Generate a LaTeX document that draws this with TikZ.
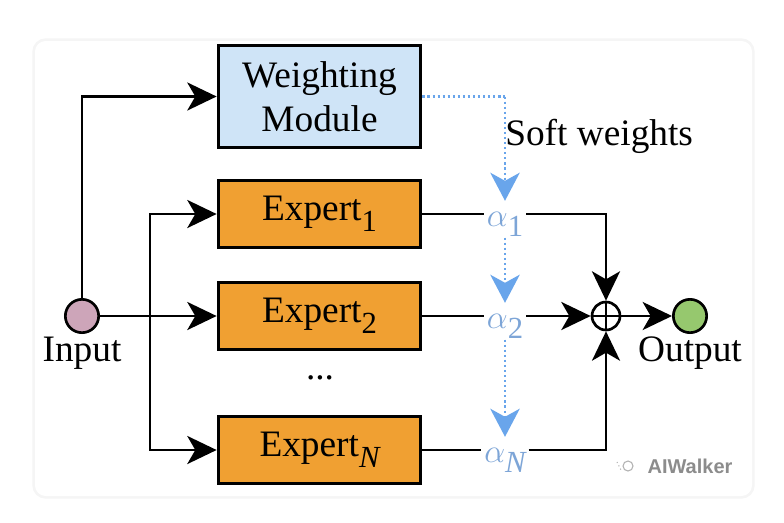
\documentclass[tikz,border=0pt]{standalone}
\usepackage{fontspec}
\setmainfont{Liberation Serif}
\newfontfamily\wmfont{Liberation Sans}
\usetikzlibrary{arrows.meta,calc}
\definecolor{wmblue}{RGB}{207,228,247}
\definecolor{exorange}{RGB}{240,160,50}
\definecolor{inpink}{RGB}{205,165,185}
\definecolor{outgreen}{RGB}{150,200,110}
\definecolor{alphablue}{RGB}{125,165,215}
\definecolor{dotblue}{RGB}{105,165,235}
\newcommand{\subtxt}[1]{\raisebox{-8pt}{\fontsize{23}{23}\selectfont #1}}
\begin{document}
\begin{tikzpicture}[x=0.75pt,y=-0.75pt,
  font=\fontsize{28}{33}\selectfont,
  box/.style={draw=black, line width=2.3pt, minimum width=152pt, inner sep=0pt, align=center},
  expbox/.style={box, fill=exorange, minimum height=50pt},
  dotnode/.style={circle, draw=black, line width=2pt, minimum size=25pt, inner sep=0pt},
  conn/.style={line width=2.2pt, draw=black},
  arr/.style={conn, -{Stealth[length=22pt,width=21pt,inset=6pt]}},
  wconn/.style={line width=2pt, draw=dotblue, dash pattern=on 1.6pt off 2.2pt},
  warr/.style={wconn, -{Stealth[length=21pt,width=22pt,inset=6pt]}},
  anode/.style={text=alphablue, inner sep=2pt, anchor=base, font=\fontsize{33}{33}\selectfont}]
\useasboundingbox (0,0) rectangle (784,522);
% card
\draw[draw=black!4, line width=4pt, rounded corners=8pt] (35,41) rectangle (752,496);
\fill[white, rounded corners=8pt] (35,41) rectangle (752,496);

% nodes
\node[box, fill=wmblue, minimum height=77pt] (wm) at (319.5,96.5) {Weighting\\Module};
\node[expbox] (e1) at (319.5,214) {Expert\subtxt{1}};
\node[expbox] (e2) at (319.5,316) {Expert\subtxt{2}};
\node[expbox] (eN) at (319.5,450) {Expert\subtxt{\itshape N}};
\node (dots) at (320,378) {...};

\node[dotnode, fill=inpink] (in) at (82,316) {};
\node[dotnode, fill=outgreen] (out) at (690,316) {};
\node[circle, draw=black, line width=2pt, minimum size=21pt, inner sep=0pt,
  path picture={\draw[line width=1.8pt] (path picture bounding box.north) -- (path picture bounding box.south)
                 (path picture bounding box.west) -- (path picture bounding box.east);}] (sum) at (606,316) {};

\node (inlbl) at (82,353) {Input};
\node (outlbl) at (690,353) {Output};
\node[anchor=base west, inner sep=0pt] (soft) at (505,145) {Soft weights};

\node[anode] (a1) at (505,226) {$\alpha$\subtxt{1}};
\node[anode] (a2) at (505,328) {$\alpha$\subtxt{2}};
\node[anode] (aN) at (505,462) {$\alpha$\subtxt{\itshape N}};

\node[text=black!45, font=\wmfont\bfseries\fontsize{15}{15}\selectfont] (wmk) at (690,466) {AIWalker};
\draw[black!30, line width=0.8pt] (628,466) circle (5);
\draw[black!30, line width=0.8pt, dotted] (617,462) -- (621,470);

% input connectors
\coordinate (br) at (150,316);
\draw[arr] (in.east) -- (e2.west);
\draw[arr] (in.north) |- (wm.west);
\draw[arr] (br) |- (e1.west);
\draw[arr] (br) |- (eN.west);

% expert to alpha
\draw[conn] (e1.east) -- (e1.east -| a1.west);
\draw[conn] (e2.east) -- (e2.east -| a2.west);
\draw[conn] (eN.east) -- (eN.east -| aN.west);

% alpha to sum
\draw[arr] (a1.east |- e1.east) -| (sum.north);
\draw[arr] (a2.east |- e2.east) -- (sum.west);
\draw[arr] (aN.east |- eN.east) -| (sum.south);
\draw[arr] (sum.east) -- (out.west);

% soft weights
\coordinate (wc) at (a1.north |- wm.east);
\draw[wconn] (wm.east) -- (wc);
\draw[warr] (wc) -- ($(a1.north)+(0,-8)$);
\draw[warr] ($(a1.south)+(0,-2)$) -- ($(a2.north)+(0,-8)$);
\draw[warr] ($(a2.south)+(0,-2)$) -- ($(aN.north)+(0,-8)$);
\end{tikzpicture}
\end{document}
